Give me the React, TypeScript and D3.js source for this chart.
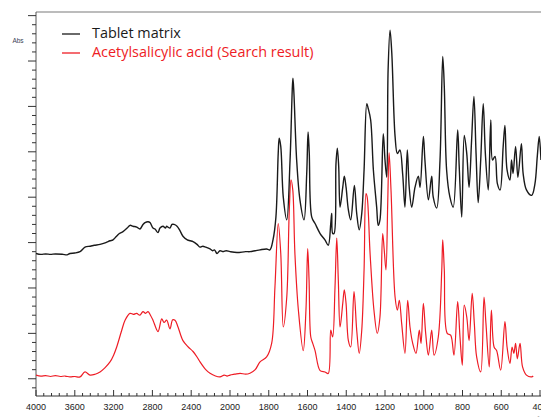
import React from "react";
import * as d3 from "d3";

// wavenumber (cm-1), absorbance
const tabletMatrix: [number, number][] = [
  [4000, 1.38], [3950, 1.37], [3900, 1.375], [3850, 1.37], [3800, 1.375], [3722, 1.37],
  [3680, 1.365], [3650, 1.38], [3600, 1.385], [3546, 1.40], [3495, 1.45], [3440, 1.46],
  [3400, 1.47], [3340, 1.48], [3280, 1.50], [3237, 1.52], [3206, 1.53], [3170, 1.57],
  [3140, 1.60], [3103, 1.62], [3060, 1.66], [3031, 1.69], [3000, 1.68], [2962, 1.67],
  [2928, 1.65], [2897, 1.70], [2876, 1.72], [2845, 1.73], [2825, 1.72], [2794, 1.66],
  [2773, 1.65], [2742, 1.61], [2722, 1.66], [2691, 1.68], [2665, 1.66], [2653, 1.68],
  [2639, 1.67], [2619, 1.66], [2598, 1.70], [2577, 1.70], [2546, 1.68], [2520, 1.64],
  [2485, 1.57], [2440, 1.53], [2410, 1.52], [2381, 1.51], [2340, 1.48], [2309, 1.45],
  [2280, 1.46], [2250, 1.45], [2206, 1.43], [2180, 1.41], [2160, 1.42], [2134, 1.38],
  [2103, 1.41], [2072, 1.40], [2040, 1.41], [2000, 1.40], [1964, 1.39], [1920, 1.40],
  [1897, 1.40], [1870, 1.41], [1845, 1.42], [1811, 1.43], [1794, 1.42], [1778, 1.53],
  [1763, 1.78], [1751, 2.49], [1746, 2.65], [1738, 2.56], [1725, 2.00], [1707, 1.75],
  [1690, 2.41], [1678, 3.22], [1675, 3.31], [1670, 3.14], [1656, 2.41], [1639, 1.97],
  [1618, 1.75], [1604, 2.26], [1597, 2.72], [1591, 2.49], [1578, 1.78], [1561, 1.71],
  [1535, 1.60], [1510, 1.53], [1493, 1.47], [1480, 1.71], [1475, 1.82], [1470, 1.60],
  [1463, 1.60], [1453, 2.37], [1446, 2.54], [1439, 2.34], [1432, 1.89], [1418, 2.11],
  [1410, 2.23], [1401, 2.11], [1389, 1.86], [1377, 1.75], [1358, 2.13], [1346, 1.82],
  [1333, 1.64], [1320, 1.82], [1308, 2.30], [1294, 3.03], [1287, 2.98], [1274, 2.85],
  [1260, 2.30], [1243, 1.89], [1235, 1.69], [1226, 1.75], [1209, 2.70], [1200, 2.41],
  [1191, 2.22], [1184, 3.40], [1174, 3.84], [1165, 3.59], [1148, 2.67], [1136, 2.48],
  [1123, 2.52], [1109, 2.26], [1097, 1.89], [1085, 2.52], [1075, 2.11], [1062, 1.89],
  [1045, 2.11], [1028, 2.23], [1019, 2.11], [1002, 2.67], [994, 2.41], [976, 1.97],
  [959, 2.23], [951, 2.00], [933, 1.88], [916, 2.41], [902, 3.55], [894, 3.22],
  [882, 2.30], [865, 2.00], [848, 1.89], [825, 2.74], [817, 2.34], [804, 1.78],
  [791, 2.68], [778, 2.48], [766, 2.11], [753, 2.63], [741, 3.11], [730, 2.48],
  [719, 1.94], [706, 2.41], [693, 3.03], [682, 2.48], [667, 2.08], [654, 2.85],
  [645, 2.41], [632, 2.45], [620, 2.15], [606, 2.08], [590, 2.56], [581, 2.79],
  [570, 2.30], [555, 2.19], [547, 2.41], [539, 2.26], [526, 2.56], [514, 2.22],
  [496, 2.59], [487, 2.26], [470, 2.08], [443, 2.02], [426, 2.15], [414, 2.45],
  [404, 2.67], [395, 2.41],
];

const acetylsalicylic: [number, number][] = [
  [4000, 0.04], [3950, 0.03], [3900, 0.035], [3850, 0.025], [3800, 0.035], [3750, 0.025],
  [3700, 0.03], [3650, 0.02], [3600, 0.025], [3546, 0.02], [3495, 0.075], [3443, 0.04],
  [3390, 0.05], [3340, 0.075], [3290, 0.12], [3237, 0.185], [3200, 0.26], [3168, 0.35],
  [3120, 0.52], [3082, 0.645], [3031, 0.72], [2995, 0.71], [2962, 0.72], [2930, 0.70],
  [2897, 0.74], [2870, 0.72], [2845, 0.74], [2820, 0.70], [2794, 0.645], [2742, 0.52],
  [2704, 0.66], [2680, 0.62], [2653, 0.645], [2619, 0.55], [2591, 0.65], [2567, 0.645],
  [2536, 0.57], [2485, 0.42], [2430, 0.35], [2381, 0.30], [2340, 0.24], [2309, 0.185],
  [2250, 0.10], [2206, 0.06], [2150, 0.03], [2103, 0.02], [2060, 0.04], [2030, 0.03],
  [2000, 0.04], [1975, 0.05], [1948, 0.06], [1920, 0.05], [1897, 0.06], [1870, 0.10],
  [1845, 0.185], [1811, 0.24], [1785, 0.39], [1768, 1.01], [1751, 1.71], [1738, 1.38],
  [1725, 0.57], [1707, 0.90], [1694, 1.86], [1685, 2.19], [1676, 2.08], [1665, 1.38],
  [1647, 0.755], [1622, 0.31], [1608, 0.755], [1599, 1.435], [1592, 1.09], [1583, 0.46],
  [1573, 0.39], [1561, 0.31], [1535, 0.09], [1510, 0.075], [1493, 0.057], [1480, 0.535],
  [1470, 0.46], [1458, 1.01], [1449, 1.55], [1441, 1.09], [1432, 0.57], [1418, 0.83],
  [1410, 0.98], [1401, 0.83], [1389, 0.42], [1377, 0.35], [1360, 0.96], [1346, 0.535],
  [1333, 0.28], [1320, 0.535], [1308, 1.20], [1298, 2.04], [1292, 2.00], [1277, 1.38],
  [1257, 0.755], [1240, 0.50], [1226, 0.68], [1212, 1.60], [1204, 1.42], [1195, 1.20],
  [1186, 1.93], [1179, 2.49], [1169, 2.08], [1148, 0.90], [1136, 0.755], [1126, 0.865],
  [1114, 0.61], [1097, 0.28], [1083, 0.865], [1071, 0.57], [1057, 0.39], [1040, 0.28],
  [1023, 0.535], [1014, 0.39], [1002, 0.83], [990, 0.50], [976, 0.26], [959, 0.535],
  [947, 0.26], [925, 0.46], [907, 1.20], [902, 1.53], [894, 1.20], [879, 0.50],
  [861, 0.48], [844, 0.26], [825, 0.85], [813, 0.46], [801, 0.15], [791, 0.81],
  [778, 0.68], [766, 0.42], [750, 0.94], [739, 0.61], [727, 0.24], [706, 0.075],
  [689, 0.90], [679, 0.61], [662, 0.13], [651, 0.755], [637, 0.35], [624, 0.31],
  [603, 0.094], [581, 0.63], [570, 0.35], [555, 0.17], [544, 0.35], [535, 0.28],
  [526, 0.39], [517, 0.22], [503, 0.39], [490, 0.13], [470, 0.04], [443, 0.02],
  [435, 0.03],
];

const xTickLabels = [4000, 3600, 3200, 2800, 2400, 2000, 1800, 1600, 1400, 1200, 1000, 800, 600, 400];
const legendNames = ["Tablet matrix", "Acetylsalicylic acid (Search result)"];
const colors = ["#1a1a1a", "#ee1c25"];

export default function App() {
  const width = 541;
  const height = 417;
  const left = 36, top = 12, bottom = 396, right = 560;

  // IR style axis: the scale doubles below 2000 cm-1
  const x = d3.scaleLinear().domain([4000, 2000, 400]).range([left, 230, 540]);
  const y = d3.scaleLinear().domain([-0.19, 4.04]).range([bottom, top]);

  const line = d3
    .line<[number, number]>()
    .x((d) => x(d[0]))
    .y((d) => y(d[1]))
    .curve(d3.curveCatmullRom.alpha(0.5));

  // minor ticks: 5 per major interval
  const minorX: number[] = [];
  for (let i = 0; i < xTickLabels.length - 1; i++) {
    const a = xTickLabels[i], b = xTickLabels[i + 1];
    for (let k = 1; k < 5; k++) minorX.push(a + ((b - a) * k) / 5);
  }
  const majorY = d3.range(0, 4.01, 0.5);
  const minorY = d3.range(-0.1, 4.01, 0.1).filter((v) => Math.abs(v * 2 - Math.round(v * 2)) > 0.01);

  return (
    <svg width={width} height={height} style={{ position: "absolute", left: 0, top: 0, background: "#fff" }}>
      <defs>
        <clipPath id="plot">
          <rect x={left} y={top} width={right - left} height={bottom - top} />
        </clipPath>
      </defs>

      {/* frame */}
      <line x1={left} x2={right} y1={top} y2={top} stroke="#7a7a7a" strokeWidth={1.2} />
      <line x1={left} x2={left} y1={top} y2={bottom} stroke="#555" strokeWidth={1} />
      <line x1={left} x2={right} y1={bottom} y2={bottom} stroke="#333" strokeWidth={1} />

      {/* y ticks */}
      {majorY.map((v) => (
        <line key={"my" + v} x1={left - 8} x2={left} y1={y(v)} y2={y(v)} stroke="#333" />
      ))}
      {minorY.map((v) => (
        <line key={"ny" + v} x1={left - 4} x2={left} y1={y(v)} y2={y(v)} stroke="#333" />
      ))}
      <text x={18} y={41} fontSize={6.5} fill="#3a3f55" textAnchor="middle" dominantBaseline="middle"
        fontFamily="Liberation Sans, Arial, sans-serif">Abs</text>

      {/* x ticks */}
      {xTickLabels.map((v) => (
        <g key={"mx" + v}>
          <line x1={x(v)} x2={x(v)} y1={bottom - 6} y2={bottom} stroke="#333" />
          <text x={x(v)} y={410} fontSize={9} fill="#222" textAnchor="middle"
            fontFamily="Liberation Sans, Arial, sans-serif">{v}</text>
        </g>
      ))}
      {minorX.map((v) => (
        <line key={"nx" + v} x1={x(v)} x2={x(v)} y1={bottom - 3} y2={bottom} stroke="#333" />
      ))}
      <text x={527} y={420} fontSize={6} fill="#999" fontFamily="Liberation Sans, Arial, sans-serif">cm-1</text>

      {/* spectra */}
      <g clipPath="url(#plot)" fill="none" strokeLinejoin="round">
        <path d={line(acetylsalicylic) || ""} stroke={colors[1]} strokeWidth={1.2} />
        <path d={line(tabletMatrix) || ""} stroke={colors[0]} strokeWidth={1.4} />
      </g>

      {/* legend */}
      {legendNames.map((name, i) => (
        <g key={name} transform={`translate(62, ${34 + i * 19})`}>
          <line x1={0} x2={18} y1={0} y2={0} stroke={colors[i]} strokeWidth={1.3} />
          <text x={30} y={0} dominantBaseline="middle" fontSize={14.4} fill={colors[i]}
            fontFamily="Open Sans, sans-serif">{name}</text>
        </g>
      ))}
    </svg>
  );
}
